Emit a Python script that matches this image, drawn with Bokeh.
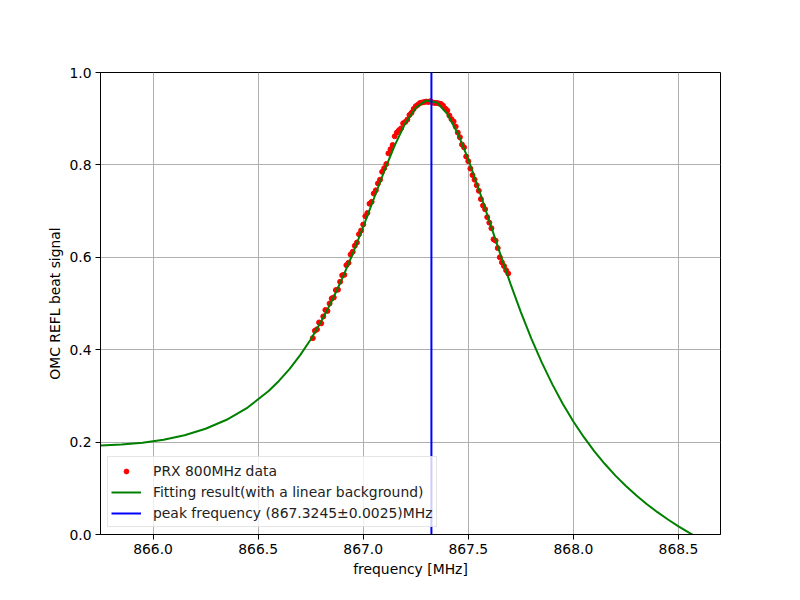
from bokeh.plotting import figure
from bokeh.models import Range1d, FixedTicker, Legend, LegendItem, NumeralTickFormatter
from bokeh.embed import file_html
from bokeh.resources import INLINE

# measured data (PRX 800MHz)
data_freq = [866.76, 866.77, 866.78, 866.79, 866.80, 866.81, 866.82, 866.83, 866.84, 866.85,
             866.86, 866.87, 866.88, 866.89, 866.90, 866.91, 866.92, 866.93, 866.94, 866.95,
             866.96, 866.97, 866.98, 866.99, 867.00, 867.01, 867.02, 867.03, 867.04, 867.05,
             867.06, 867.07, 867.08, 867.09, 867.10, 867.11, 867.12, 867.13, 867.14, 867.15,
             867.16, 867.17, 867.18, 867.19, 867.20, 867.21, 867.22, 867.23, 867.24, 867.25,
             867.26, 867.27, 867.28, 867.29, 867.30, 867.31, 867.32, 867.33, 867.34, 867.35,
             867.36, 867.37, 867.38, 867.39, 867.40, 867.41, 867.42, 867.43, 867.44, 867.45,
             867.46, 867.47, 867.48, 867.49, 867.50, 867.51, 867.52, 867.53, 867.54, 867.55,
             867.56, 867.57, 867.58, 867.59, 867.60, 867.61, 867.62, 867.63, 867.64, 867.65,
             867.66, 867.67, 867.68, 867.69]
data_signal = [0.425, 0.441, 0.444, 0.459, 0.457, 0.472, 0.486, 0.484, 0.500, 0.511,
               0.513, 0.529, 0.530, 0.547, 0.561, 0.562, 0.583, 0.588, 0.606, 0.612,
               0.625, 0.632, 0.650, 0.658, 0.671, 0.689, 0.696, 0.716, 0.720, 0.738,
               0.745, 0.760, 0.768, 0.785, 0.793, 0.802, 0.825, 0.834, 0.843, 0.862,
               0.870, 0.875, 0.879, 0.890, 0.893, 0.898, 0.908, 0.913, 0.921, 0.927,
               0.930, 0.934, 0.935, 0.936, 0.937, 0.936, 0.938, 0.935, 0.934, 0.934,
               0.933, 0.932, 0.928, 0.922, 0.918, 0.907, 0.899, 0.894, 0.883, 0.870,
               0.860, 0.844, 0.838, 0.818, 0.808, 0.792, 0.778, 0.768, 0.756, 0.744,
               0.726, 0.712, 0.704, 0.687, 0.675, 0.663, 0.639, 0.636, 0.620, 0.600,
               0.589, 0.581, 0.572, 0.565]

# fitted curve
fit_freq = [865.75, 865.85, 865.95, 866.05, 866.15, 866.25, 866.35, 866.45, 866.55, 866.60,
            866.65, 866.70, 866.75, 866.80, 866.85, 866.90, 866.95, 867.00, 867.05, 867.10,
            867.15, 867.20, 867.25, 867.30, 867.35, 867.40, 867.45, 867.50, 867.55, 867.60,
            867.65, 867.70, 867.75, 867.80, 867.85, 867.90, 867.95, 868.00, 868.05, 868.10,
            868.15, 868.20, 868.25, 868.30, 868.35, 868.40, 868.45, 868.50, 868.55, 868.60,
            868.65, 868.70]
fit_signal = [0.1927, 0.1947, 0.1987, 0.2052, 0.2149, 0.2289, 0.2483, 0.2748, 0.3106, 0.3329,
              0.3586, 0.3882, 0.4222, 0.4610, 0.5048, 0.5538, 0.6077, 0.6657, 0.7262, 0.7863,
              0.8424, 0.8899, 0.9236, 0.9396, 0.9352, 0.9105, 0.8680, 0.8120, 0.7473, 0.6787,
              0.6100, 0.5436, 0.4814, 0.4241, 0.3719, 0.3249, 0.2826, 0.2447, 0.2106, 0.1800,
              0.1525, 0.1275, 0.1050, 0.0844, 0.0656, 0.0483, 0.0324, 0.0177, 0.0039, -0.0089,
              -0.0209, -0.0321]

peak_freq = 867.3245
peak_err = 0.0025
peak_line_y = [0.0, 1.0]

x_ticks = [866.0, 866.5, 867.0, 867.5, 868.0, 868.5]
y_ticks = [0.0, 0.2, 0.4, 0.6, 0.8, 1.0]

FONT = "DejaVu Sans"
FS = "13.9px"

p = figure(width=800, height=600, output_backend="svg", toolbar_location=None,
           x_range=Range1d(865.75, 868.70), y_range=Range1d(0.0, 1.0))
p.min_border_left = 100
p.min_border_right = 80
p.min_border_top = 72
p.min_border_bottom = 66
p.background_fill_color = "white"
p.border_fill_color = "white"
p.outline_line_color = "black"
p.outline_line_width = 1

p.xaxis.ticker = FixedTicker(ticks=x_ticks)
p.yaxis.ticker = FixedTicker(ticks=y_ticks)
p.xaxis.formatter = NumeralTickFormatter(format="0.0")
p.yaxis.formatter = NumeralTickFormatter(format="0.0")
for ax in (p.xaxis, p.yaxis):
    ax.major_tick_out = 5
    ax.major_tick_in = 0
    ax.minor_tick_out = 0
    ax.minor_tick_in = 0
    ax.axis_line_color = "black"
    ax.major_tick_line_color = "black"
    ax.major_label_text_font = FONT
    ax.major_label_text_font_size = FS
    ax.major_label_text_color = "black"
    ax.axis_label_text_font = FONT
    ax.axis_label_text_font_size = FS
    ax.axis_label_text_font_style = "normal"
    ax.axis_label_text_color = "black"
    ax.major_label_standoff = 4
p.xaxis.axis_label = "frequency [MHz]"
p.yaxis.axis_label = "OMC REFL beat signal"
p.xaxis.axis_label_standoff = 4
p.yaxis.axis_label_standoff = 3

p.grid.grid_line_color = "#b0b0b0"
p.grid.grid_line_width = 1

r_data = p.scatter(data_freq, data_signal, size=5, color="red", line_color="red")
r_fit = p.line(fit_freq, fit_signal, line_color="green", line_width=2)
r_peak = p.line([peak_freq, peak_freq], peak_line_y, line_color="blue", line_width=2)

legend = Legend(items=[
    LegendItem(label="PRX 800MHz data", renderers=[r_data]),
    LegendItem(label="Fitting result(with a linear background)", renderers=[r_fit]),
    LegendItem(label="peak frequency (%.4f\u00b1%.4f)MHz" % (peak_freq, peak_err), renderers=[r_peak]),
])
legend.location = "bottom_left"
legend.margin = 7
legend.padding = 3
legend.spacing = 0
legend.label_height = 21
legend.glyph_width = 30
legend.glyph_height = 12
legend.label_standoff = 12
legend.label_text_font = FONT
legend.label_text_font_size = FS
legend.label_text_color = "#222222"
legend.border_line_color = "#cccccc"
legend.border_line_width = 1
legend.background_fill_alpha = 0.8
p.add_layout(legend)

open("out.html", "w").write(file_html(p, INLINE))
